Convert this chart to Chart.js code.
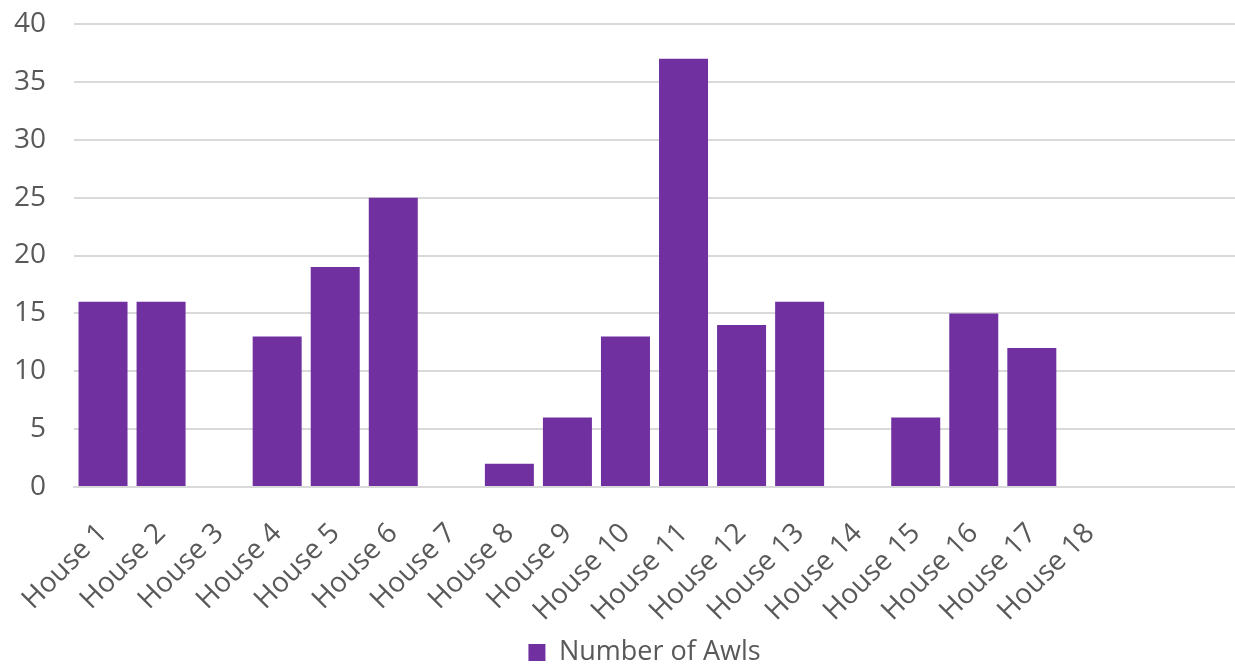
<!DOCTYPE html>
<html>
<head>
<meta charset="utf-8">
<script src="https://cdn.jsdelivr.net/npm/chart.js@4/dist/chart.umd.min.js"></script>
<style>
html,body{margin:0;padding:0;background:#fff;}
#wrap{width:1235px;height:670px;}
</style>
</head>
<body>
<div id="wrap"><canvas id="c" width="1235" height="670"></canvas></div>
<script>
const categories = ["House 1","House 2","House 3","House 4","House 5","House 6","House 7","House 8","House 9","House 10","House 11","House 12","House 13","House 14","House 15","House 16","House 17","House 18","",""];
const awls = [16,16,0,13,19,25,0,2,6,13,37,14,16,0,6,15,12,0,null,null];
const seriesName = "Number of Awls";
const yTicks = [0,5,10,15,20,25,30,35,40];

const textColor = "#595959";
const fontFamily = "'Open Sans', sans-serif";

const legendShift = {
  id: 'legendShift',
  afterLayout(chart) {
    if (chart.legend) { chart.legend.left -= 10; chart.legend.right -= 10; }
  }
};

new Chart(document.getElementById('c'), {
  type: 'bar',
  data: {
    labels: categories,
    datasets: [{
      label: seriesName,
      data: awls,
      backgroundColor: '#7030a0',
      borderWidth: 0,
      barPercentage: 0.844,
      categoryPercentage: 1.0
    }]
  },
  plugins: [legendShift],
  options: {
    responsive: false,
    animation: false,
    layout: { padding: { top: 24, right: 0, left: 8, bottom: -6 } },
    plugins: {
      legend: {
        position: 'bottom',
        fullSize: false,
        labels: {
          color: textColor,
          font: { family: fontFamily, size: 27 },
          boxWidth: 17,
          boxHeight: 17,
          padding: 2
        }
      },
      tooltip: { enabled: false }
    },
    scales: {
      x: {
        grid: { display: false, drawTicks: false },
        border: { color: '#d9d9d9', width: 2 },
        ticks: {
          color: textColor,
          font: { family: fontFamily, size: 28 },
          maxRotation: 45,
          minRotation: 45,
          autoSkip: false,
          padding: 30
        },
        afterFit: (axis) => { axis.height = 150; axis.paddingLeft = 0; axis.paddingRight = 0; }
      },
      y: {
        min: 0,
        max: 40,
        afterBuildTicks: (axis) => { axis.ticks = yTicks.map(v => ({ value: v })); },
        grid: { color: '#d9d9d9', lineWidth: 2, drawTicks: false },
        border: { display: false },
        ticks: {
          color: textColor,
          font: { family: fontFamily, size: 28 },
          padding: 28
        },
        afterFit: (axis) => { axis.width = 66; axis.paddingTop = 0; axis.paddingBottom = 0; }
      }
    }
  }
});
</script>
</body>
</html>
